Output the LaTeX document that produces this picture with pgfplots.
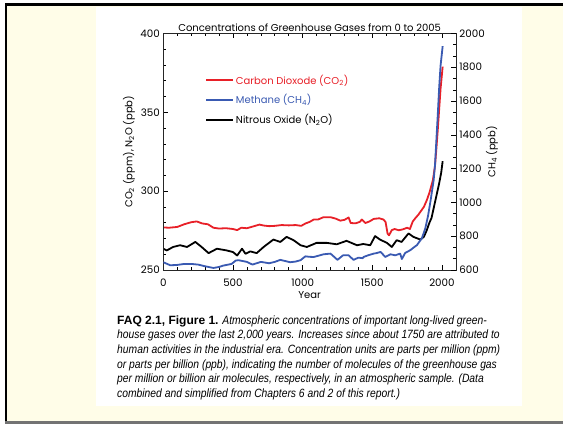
\documentclass[border=0pt]{standalone}
\usepackage{fontspec}
\usepackage{pgfplots}
\pgfplotsset{compat=1.18}
\setmainfont{Poppins}
\newfontfamily\capfont[FakeStretch=0.86]{Liberation Sans}
\newfontfamily\capbold{Liberation Sans}
\definecolor{bgyel}{RGB}{255,253,232}
\definecolor{co2red}{RGB}{232,32,40}
\definecolor{ch4blue}{RGB}{58,90,178}
\begin{document}
\begin{tikzpicture}[x=1pt,y=1pt]
\path (0,0) rectangle (563,426);
\fill[bgyel] (7,5) rectangle (563,420);
\fill[white] (96,20) rectangle (522,419);
\fill[black] (4.5,420) rectangle (563,422.5);
\fill[black] (4.5,3) rectangle (7,422.5);
\fill[black!55] (4.5,2) rectangle (563,5);

\pgfplotsset{base/.style={at={(163.3pt,156pt)}, anchor=south west, scale only axis,
  width=292.6pt, height=236.5pt, xmin=0, xmax=2100,
  font=\fontsize{10}{11}\selectfont,
  tick label style={font=\fontsize{10.3}{11}\selectfont},
  tick style={black, line width=0.6pt}, major tick length=5pt, minor tick length=3pt,
  axis line style={line width=0.8pt, black!85},
  /pgf/number format/assume math mode=true,
  /pgf/number format/set thousands separator={},
  every axis plot/.append style={line width=1.8pt, line join=round}}}

\begin{axis}[base, ymin=250, ymax=400, ytick={250,300,350,400}, minor y tick num=4,
  xtick={0,500,1000,1500,2000}, minor x tick num=4,
  xtick pos=both, xticklabel pos=lower, ytick pos=left, yticklabel pos=left,
  xticklabel style={yshift=-5pt},
  title={Concentrations of Greenhouse Gases from 0 to 2005},
  title style={at={(0.5,0.998)}, anchor=center, font=\fontsize{10}{11}\selectfont},
  xlabel={Year}, xlabel style={at={(0.5,-0.108)}, anchor=center},
  ylabel={CO\textsubscript{2} (ppm), N\textsubscript{2}O (ppb)},
  ylabel style={at={(-0.117,0.5)}, anchor=center}]
\addplot[co2red] coordinates {
(0,277) (40,276.8) (100,277.3) (150,279) (200,280.3) (240,280.8) (280,279.5) (320,279)
(360,276.8) (400,276.3) (450,276.5) (500,276) (530,275.3) (560,276.8) (600,276.5)
(640,277.5) (690,278.8) (720,278.2) (760,277.8) (800,278) (850,278.5) (900,278.3)
(950,278.5) (990,278) (1020,279.5) (1050,280.5) (1080,282) (1110,282) (1150,283.5)
(1200,283.5) (1240,282.5) (1270,281.3) (1300,281.8) (1330,283.3) (1345,279.8)
(1380,279.6) (1410,280.5) (1425,282) (1450,279.8) (1480,280.8) (1510,282.4)
(1550,282.8) (1580,282) (1595,280.5) (1610,273) (1620,272) (1640,275.3) (1660,276)
(1690,275.2) (1720,275.8) (1750,276.8) (1770,276) (1790,280.7) (1810,283) (1830,285)
(1850,287.5) (1870,290) (1890,294) (1910,299) (1935,307) (1950,316) (1960,327)
(1970,339) (1980,352) (1990,365) (2005,379)};
\addplot[black] coordinates {
(0,263.5) (25,262.4) (70,264.6) (120,265.7) (170,264.6) (230,267.8) (275,264.6)
(325,260.7) (385,263.5) (455,262.4) (500,261.4) (530,259.2) (565,263.5) (590,260.3)
(625,261.8) (670,260.7) (720,264.6) (790,269.3) (840,267.8) (885,271) (935,268.9)
(985,265.7) (1030,264.6) (1100,267.2) (1175,267.2) (1245,266.3) (1315,268.5)
(1390,265.7) (1435,266.5) (1485,265.7) (1520,271.5) (1555,269.3) (1605,267.2)
(1640,264.6) (1675,268.9) (1710,267.8) (1760,273.2) (1795,271) (1845,269.3)
(1870,271) (1890,275) (1910,280) (1925,283) (1940,289) (1960,297) (1980,305)
(1995,312) (2005,319)};
\end{axis}

\begin{axis}[base, ymin=600, ymax=2000, ytick={600,800,...,2000}, minor y tick num=2,
  hide x axis, ytick pos=right, yticklabel pos=right,
  ylabel={CH\textsubscript{4} (ppb)},
  ylabel style={at={(1.123,0.5)}, anchor=center, rotate=0},
  legend style={at={(0.1425,0.835)}, anchor=north west, draw=none, fill=none,
    inner sep=0pt, row sep=5pt, font=\fontsize{10}{11}\selectfont},
  legend cell align=left,
  legend image code/.code={\draw[#1, line width=1.8pt] (0pt,0pt) -- (27pt,0pt);}]
\addlegendimage{co2red}
\addlegendentry{\textcolor{co2red}{Carbon Dioxode (CO\textsubscript{2})}}
\addplot[ch4blue] coordinates {
(0,646) (50,628) (100,630) (150,636) (200,636) (250,632) (300,622) (360,612)
(400,618) (430,626) (490,636) (520,656) (540,658) (600,648) (640,632) (700,648)
(760,640) (800,648) (840,660) (880,652) (910,646) (950,650) (985,658) (1020,681)
(1050,678) (1080,677) (1120,686) (1150,693) (1200,697) (1230,675) (1250,660)
(1290,687) (1330,687) (1365,660) (1400,673) (1430,670) (1440,678) (1470,687)
(1510,697) (1530,700) (1560,707) (1593,677) (1630,693) (1665,687) (1700,697)
(1712,665) (1736,701) (1772,717) (1800,735) (1820,747) (1856,788) (1880,845)
(1900,920) (1920,1020) (1940,1130) (1950,1220) (1960,1370) (1970,1520)
(1980,1680) (1990,1810) (2005,1925)};
\addlegendentry{\textcolor{ch4blue}{Methane (CH\textsubscript{4})}}
\addlegendimage{black}
\addlegendentry{Nitrous Oxide (N\textsubscript{2}O)}
\end{axis}

\capfont\fontsize{12}{14}\selectfont
\node[anchor=base west, inner sep=0pt] at (117,101.5) {{\capbold\bfseries FAQ 2.1, Figure 1.} \textit{Atmospheric concentrations of important long-lived green-}};
\node[anchor=base west, inner sep=0pt] at (117,87) {\textit{house gases over the last 2,000 years. Increases since about 1750 are attributed to}};
\node[anchor=base west, inner sep=0pt] at (117,72.5) {\textit{human activities in the industrial era. Concentration units are parts per million (ppm)}};
\node[anchor=base west, inner sep=0pt] at (117,57.5) {\textit{or parts per billion (ppb), indicating the number of molecules of the greenhouse gas}};
\node[anchor=base west, inner sep=0pt] at (117,43) {\textit{per million or billion air molecules, respectively, in an atmospheric sample. (Data}};
\node[anchor=base west, inner sep=0pt] at (117,28) {\textit{combined and simplified from Chapters 6 and 2 of this report.)}};
\end{tikzpicture}
\end{document}
